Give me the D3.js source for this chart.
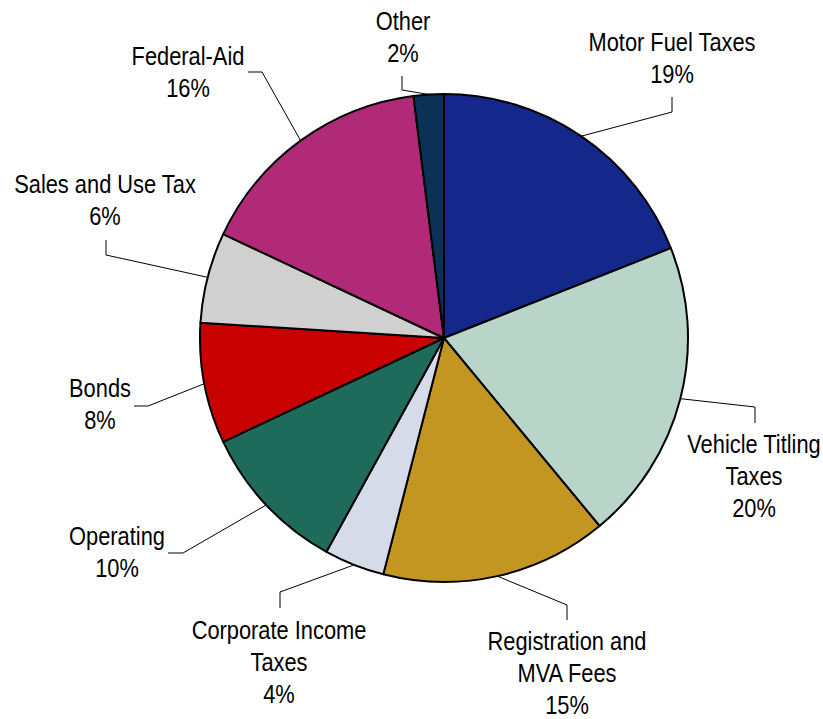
<!DOCTYPE html>
<html>
<head>
<meta charset="utf-8">
<script src="https://cdn.jsdelivr.net/npm/d3@7/dist/d3.min.js"></script>
<style>
  html, body { margin: 0; padding: 0; background: #ffffff; }
  svg { display: block; }
  .lbl { font-family: "Liberation Sans", Arial, sans-serif; font-size: 26px; fill: #000; }
</style>
</head>
<body>
<svg id="chart" width="823" height="719"></svg>
<script>
// Revenue sources, clockwise from 12 o'clock
const categories = [
  ["Motor Fuel Taxes"],
  ["Vehicle Titling", "Taxes"],
  ["Registration and", "MVA Fees"],
  ["Corporate Income", "Taxes"],
  ["Operating"],
  ["Bonds"],
  ["Sales and Use Tax"],
  ["Federal-Aid"],
  ["Other"]
];
const shares = [19, 20, 15, 4, 10, 8, 6, 16, 2];
const colors = ["#13288a", "#b9d5ca", "#c39622", "#d5dbe8", "#1f6b5b", "#c80000", "#d0d0d0", "#b02a78", "#0b3157"];

// Label placement: elbow of the leader line, its end, text centre x and first baseline
const labelLayout = [
  { elbow: [672, 112], end: [672, 97],  tx: 672, ty: 51 },
  { elbow: [755, 407], end: [755, 423], tx: 754, ty: 453 },
  { elbow: [567, 605], end: [567, 620], tx: 567, ty: 650 },
  { elbow: [280, 592], end: [280, 608], tx: 279, ty: 639 },
  { elbow: [183, 553], end: [168, 553], tx: 117, ty: 545 },
  { elbow: [148, 406], end: [134, 406], tx: 100, ty: 397 },
  { elbow: [106, 255], end: [106, 240], tx: 105, ty: 193 },
  { elbow: [262, 72],  end: [248, 72],  tx: 188, ty: 65 },
  { elbow: [402, 90],  end: [402, 76],  tx: 403, ty: 30 }
];

const cx = 444, cy = 338, R = 244, lineH = 32, narrow = 0.84;
const svg = d3.select("#chart");
const g = svg.append("g").attr("transform", `translate(${cx},${cy})`);

const pie = d3.pie().sort(null).value(d => d.value);
const arcs = pie(shares.map((v, i) => ({ value: v, name: categories[i], color: colors[i], layout: labelLayout[i] })));
const arc = d3.arc().innerRadius(0).outerRadius(R);

g.selectAll("path.slice")
  .data(arcs)
  .join("path")
  .attr("class", "slice")
  .attr("d", arc)
  .attr("fill", d => d.data.color)
  .attr("stroke", "#000")
  .attr("stroke-width", 2)
  .attr("stroke-linejoin", "round");

// Leader lines from each slice's mid-angle on the rim
svg.selectAll("polyline.leader")
  .data(arcs)
  .join("polyline")
  .attr("class", "leader")
  .attr("fill", "none")
  .attr("stroke", "#000")
  .attr("stroke-width", 1)
  .attr("points", d => {
    const a = (d.startAngle + d.endAngle) / 2;
    const sx = cx + R * Math.sin(a), sy = cy - R * Math.cos(a);
    return [[sx, sy], d.data.layout.elbow, d.data.layout.end].map(p => p.join(",")).join(" ");
  });

// Category labels with their percentage, set in a condensed width
const labels = svg.selectAll("text.lbl")
  .data(arcs)
  .join("text")
  .attr("class", "lbl")
  .attr("text-anchor", "middle")
  .attr("transform", d => `translate(${d.data.layout.tx},0) scale(${narrow},1)`);

labels.each(function(d) {
  const lines = d.data.name.concat([d3.format(".0f")(d.data.value) + "%"]);
  const t = d3.select(this);
  lines.forEach((s, i) => {
    t.append("tspan")
      .attr("x", 0)
      .attr("y", d.data.layout.ty + i * lineH)
      .text(s);
  });
});
</script>
</body>
</html>
